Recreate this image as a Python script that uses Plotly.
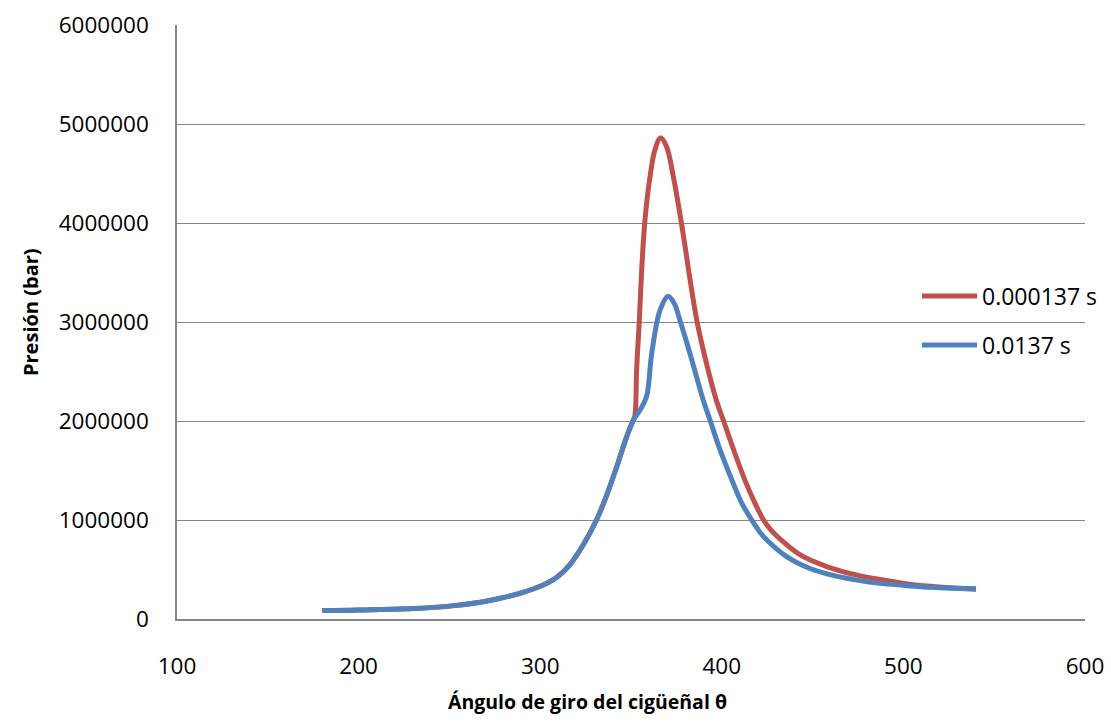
import plotly.graph_objects as go

# Crank angle (degrees) and cylinder pressure for the two time steps
angle_short = [180, 200, 230, 250, 267, 278, 289, 300, 309, 316.4, 323.7, 331, 336.6, 342, 347.6,
               351.3, 352.2, 353.1, 354.6, 355.9, 357.7, 360.5, 363.2, 366.3, 369.6, 373.3,
               377.5, 386.2, 392, 397, 400.8, 406.3, 413, 418, 423, 427.5, 432, 443, 457.8,
               475.2, 487, 500, 515, 530, 540]
pressure_short = [85000, 90000, 105000, 130000, 170000, 210000, 260000, 330000, 420000, 550000,
                  750000, 1000000, 1250000, 1530000, 1840000,
                  2010000, 2060000, 2520000, 3020000, 3530000, 4030000, 4470000, 4740000,
                  4860000, 4770000, 4470000, 4030000, 3020000, 2550000, 2210000, 2010000,
                  1720000, 1390000, 1180000, 1000000, 890000, 810000, 650000, 530000,
                  440000, 400000, 360000, 330000, 310000, 300000]

angle_long = [180, 200, 230, 250, 267, 278, 289, 300, 309, 316.4, 323.7, 331, 336.6, 342, 347.6,
              351.3, 355, 358.6, 361.4, 366, 370.5, 374, 376.9, 382.5, 389.8, 393.5, 399,
              406.3, 411, 416.5, 420.5, 424.7, 435.7, 448.6, 461.4, 475.2, 487, 500, 515,
              530, 540]
pressure_long = [85000, 90000, 105000, 130000, 170000, 210000, 260000, 330000, 420000, 550000,
                 750000, 1000000, 1250000, 1530000, 1840000,
                 2010000, 2110000, 2250000, 2680000, 3120000, 3260000, 3180000, 3020000,
                 2680000, 2210000, 2010000, 1710000, 1370000, 1170000, 1000000, 890000,
                 800000, 630000, 510000, 440000, 390000, 360000, 340000, 320000, 310000, 305000]

series_names = ["0.000137 s", "0.0137 s"]
x_ticks = [100, 200, 300, 400, 500, 600]
y_ticks = [0, 1000000, 2000000, 3000000, 4000000, 5000000, 6000000]

FONT = "Open Sans"

fig = go.Figure()
fig.add_trace(go.Scatter(
    x=angle_short, y=pressure_short, name=series_names[0], mode="lines",
    line=dict(color="#C0504D", width=5, shape="spline", smoothing=1.0),
    legendgroup="a",
))
fig.add_trace(go.Scatter(
    x=angle_long, y=pressure_long, name=series_names[1], mode="lines",
    line=dict(color="#4F81BD", width=5, shape="spline", smoothing=1.0),
    legendgroup="b",
))

fig.update_layout(
    width=1111, height=724,
    margin=dict(l=177, r=26, t=25, b=105, autoexpand=False),
    paper_bgcolor="white", plot_bgcolor="white",
    font=dict(family=FONT, size=22.5, color="black"),
    showlegend=True,
    legend=dict(
        xref="container", yref="container",
        x=0.8254, y=0.6208, xanchor="left", yanchor="top",
        bgcolor="rgba(0,0,0,0)", tracegroupgap=16, itemwidth=55,
        font=dict(family=FONT, size=23, color="black"),
    ),
    xaxis=dict(
        range=[100, 600], tickvals=x_ticks, ticktext=[str(v) for v in x_ticks],
        showgrid=False, zeroline=False, automargin=False,
        showline=True, linecolor="#868686", linewidth=1.5,
        ticks="", ticklabelstandoff=26,
    ),
    yaxis=dict(
        range=[0, 6000000], tickvals=y_ticks, ticktext=[str(v) for v in y_ticks],
        showgrid=True, gridcolor="#868686", gridwidth=1.3, automargin=False,
        zeroline=False, showline=True, linecolor="#868686", linewidth=1.5,
        ticks="", ticklabelstandoff=22,
    ),
    annotations=[
        dict(text="<b>Ángulo de giro del cigüeñal θ</b>", xref="paper", yref="paper",
             x=0.4526, y=-0.1397, xanchor="center", yanchor="middle", showarrow=False,
             font=dict(family=FONT, size=19.5, color="black")),
        dict(text="<b>Presión (bar)</b>", xref="paper", yref="paper",
             x=-0.1619, y=0.5168, xanchor="center", yanchor="middle", showarrow=False,
             textangle=-90, font=dict(family=FONT, size=20, color="black")),
    ],
)

fig.write_html("out.html")
